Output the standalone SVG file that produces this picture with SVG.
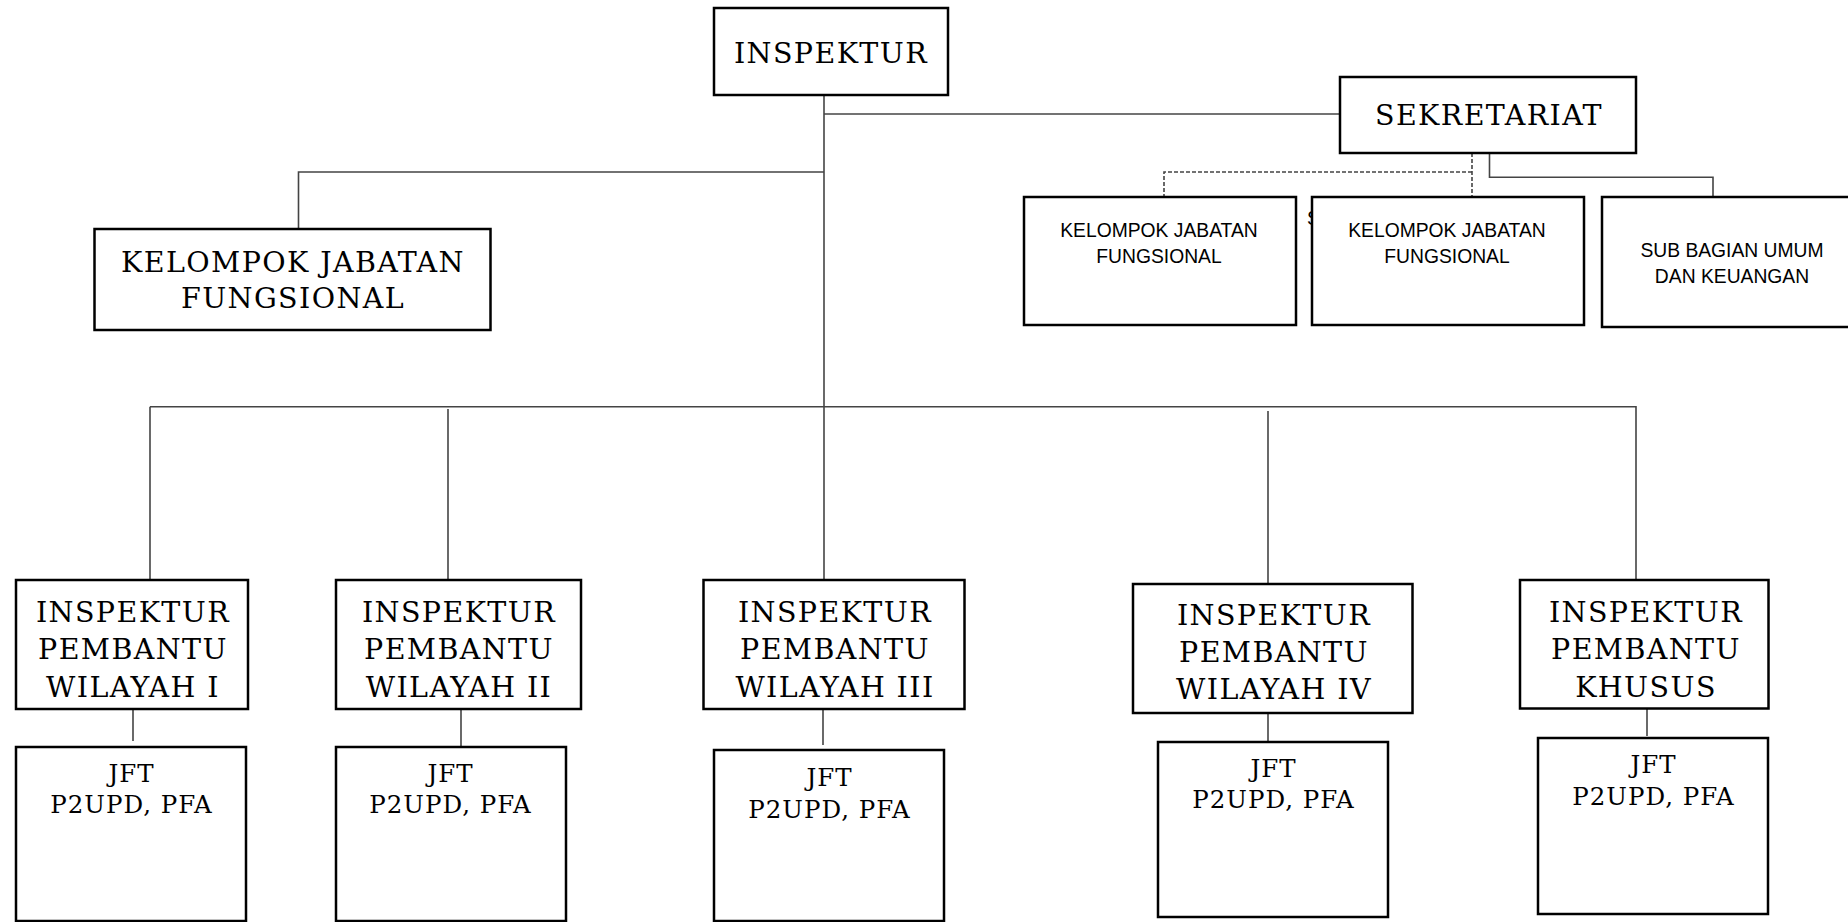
<svg xmlns="http://www.w3.org/2000/svg" width="1848" height="922" viewBox="0 0 1848 922">
<style>
.box{fill:#fff;stroke:#000;stroke-width:2.5}
.ln{fill:none;stroke:#444;stroke-width:1.6}
.dash{fill:none;stroke:#444;stroke-width:1.6;stroke-dasharray:4 2}
.sf{font-family:"DejaVu Serif","Liberation Serif",serif;font-size:28.5px;letter-spacing:1.4px;fill:#000;text-anchor:middle}
.sj{font-family:"DejaVu Serif","Liberation Serif",serif;font-size:24.5px;letter-spacing:1px;fill:#000;text-anchor:middle}
.ss{font-family:"Liberation Sans",Arial,sans-serif;font-size:19.3px;fill:#000;text-anchor:middle}
</style>
<rect width="1848" height="922" fill="#fff"/>
<g id="connectors">
<path class="ln" d="M824 95V580"/>
<path class="ln" d="M824 114H1340"/>
<path class="ln" d="M824 172H298.5V229"/>
<path class="ln" d="M150 406.7H1636V580"/>
<path class="ln" d="M150 406.7V580"/>
<path class="ln" d="M448 409V583"/>
<path class="ln" d="M1268 411V584"/>
<path class="ln" d="M133 709V741"/>
<path class="ln" d="M461 709V747"/>
<path class="ln" d="M823 709V745"/>
<path class="ln" d="M1268 713V742"/>
<path class="ln" d="M1647 708V736"/>
<path class="dash" d="M1472 153V197M1472 172H1164V197"/>
<path class="ln" d="M1489.5 153V177.3H1713V197"/>
</g>
<text class="ss" x="1307" y="225" style="text-anchor:start">S</text>
<g id="inspektur"><rect class="box" x="714" y="8" width="234" height="87"/><text class="sf" x="831" y="63">INSPEKTUR</text></g>
<g id="sekretariat"><rect class="box" x="1340" y="77" width="296" height="76"/><text class="sf" x="1489" y="125">SEKRETARIAT</text></g>
<g id="kjf-left"><rect class="box" x="94.5" y="229" width="396" height="101"/><text class="sf" x="293" y="272">KELOMPOK JABATAN</text><text class="sf" x="293" y="308">FUNGSIONAL</text></g>
<g id="kjf-1"><rect class="box" x="1024" y="197" width="272" height="128"/><text class="ss" x="1159" y="237">KELOMPOK JABATAN</text><text class="ss" x="1159" y="263">FUNGSIONAL</text></g>
<g id="kjf-2"><rect class="box" x="1312" y="197" width="272" height="128"/><text class="ss" x="1447" y="237">KELOMPOK JABATAN</text><text class="ss" x="1447" y="263">FUNGSIONAL</text></g>
<g id="subbag"><rect class="box" x="1602" y="197" width="260" height="130"/><text class="ss" x="1732" y="257">SUB BAGIAN UMUM</text><text class="ss" x="1732" y="283">DAN KEUANGAN</text></g>
<g id="w1"><rect class="box" x="16" y="580" width="232" height="129"/><text class="sf" x="133" y="622">INSPEKTUR</text><text class="sf" x="133" y="659">PEMBANTU</text><text class="sf" x="133" y="697">WILAYAH I</text></g>
<g id="w2"><rect class="box" x="336" y="580" width="245" height="129"/><text class="sf" x="459" y="622">INSPEKTUR</text><text class="sf" x="459" y="659">PEMBANTU</text><text class="sf" x="459" y="697">WILAYAH II</text></g>
<g id="w3"><rect class="box" x="703.5" y="580" width="261" height="129"/><text class="sf" x="835" y="622">INSPEKTUR</text><text class="sf" x="835" y="659">PEMBANTU</text><text class="sf" x="835" y="697">WILAYAH III</text></g>
<g id="w4"><rect class="box" x="1133" y="584" width="279.5" height="129"/><text class="sf" x="1274" y="625">INSPEKTUR</text><text class="sf" x="1274" y="662">PEMBANTU</text><text class="sf" x="1274" y="699">WILAYAH IV</text></g>
<g id="wk"><rect class="box" x="1520" y="580" width="248.5" height="128.5"/><text class="sf" x="1646" y="622">INSPEKTUR</text><text class="sf" x="1646" y="659">PEMBANTU</text><text class="sf" x="1646" y="697">KHUSUS</text></g>
<g id="jft1"><rect class="box" x="16" y="747" width="230" height="174"/><text class="sj" x="131.5" y="782">JFT</text><text class="sj" x="131.5" y="813">P2UPD, PFA</text></g>
<g id="jft2"><rect class="box" x="336" y="747" width="230" height="174"/><text class="sj" x="450.5" y="782">JFT</text><text class="sj" x="450.5" y="813">P2UPD, PFA</text></g>
<g id="jft3"><rect class="box" x="714" y="750" width="230" height="171"/><text class="sj" x="829.5" y="786">JFT</text><text class="sj" x="829.5" y="818">P2UPD, PFA</text></g>
<g id="jft4"><rect class="box" x="1158" y="742" width="230" height="175"/><text class="sj" x="1273.5" y="777">JFT</text><text class="sj" x="1273.5" y="808">P2UPD, PFA</text></g>
<g id="jftk"><rect class="box" x="1538" y="738" width="230" height="176"/><text class="sj" x="1653.5" y="773">JFT</text><text class="sj" x="1653.5" y="805">P2UPD, PFA</text></g>
</svg>
